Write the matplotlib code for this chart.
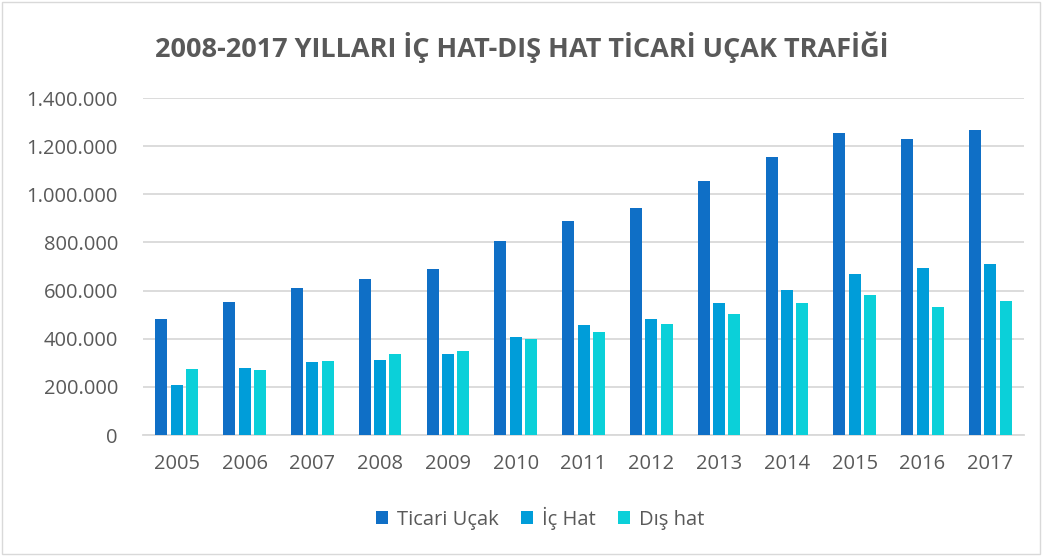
import numpy as np
import matplotlib.pyplot as plt
from matplotlib.patches import Rectangle

# values
years = ["2005", "2006", "2007", "2008", "2009", "2010", "2011",
         "2012", "2013", "2014", "2015", "2016", "2017"]
ticari = [482000, 553000, 612000, 650000, 690000, 807000, 890000,
          944000, 1057000, 1157000, 1253000, 1232000, 1269000]
ic_hat = [209000, 279000, 304000, 313000, 337000, 407000, 456000,
          480000, 550000, 603000, 667000, 696000, 709000]
dis_hat = [273000, 272000, 306000, 335000, 350000, 398000, 430000,
           460000, 503000, 550000, 583000, 532000, 558000]
series_names = ["Ticari Uçak", "İç Hat", "Dış hat"]
colors = ["#0F6FC6", "#009DD9", "#0BD0D9"]
text_color = "#595959"

plt.rcParams["font.family"] = ["Open Sans", "DejaVu Sans"]

fig = plt.figure(figsize=(10.43, 5.56), dpi=100)
ax = fig.add_axes([0.137, 0.2176, 0.845, 0.606])

x = np.arange(len(years))
w = 0.177
step = 0.226
for i, (vals, name, c) in enumerate(zip([ticari, ic_hat, dis_hat], series_names, colors)):
    ax.bar(x + (i - 1) * step, vals, width=w, color=c, label=name, zorder=3)

ax.set_xlim(-0.5, len(years) - 0.5)
ax.set_ylim(0, 1400000)
ax.set_yticks(np.arange(0, 1400001, 200000))
ax.set_yticklabels([f"{v:,}".replace(",", ".") for v in range(0, 1400001, 200000)])
ax.set_xticks(x)
ax.set_xticklabels(years)
ax.tick_params(axis="both", length=0, labelsize=14.5, colors=text_color)
ax.tick_params(axis="y", pad=18)
ax.tick_params(axis="x", pad=14)
ax.yaxis.grid(True, color="#D9D9D9", linewidth=1.3, zorder=0)
for s in ["top", "right", "left"]:
    ax.spines[s].set_visible(False)
ax.spines["bottom"].set_color("#D9D9D9")
ax.spines["bottom"].set_linewidth(1.3)

fig.text(0.5, 0.915, "2008-2017 YILLARI İÇ HAT-DIŞ HAT TİCARİ UÇAK TRAFİĞİ",
         ha="center", va="center", fontsize=19.5, fontweight="bold", color=text_color)

fig.legend(loc="center", bbox_to_anchor=(0.518, 0.068), ncol=3, frameon=False,
           fontsize=14.5, labelcolor=text_color, handlelength=0.6, handleheight=0.6,
           handletextpad=0.45, columnspacing=1.1)

fig.patches.append(Rectangle((0.002, 0.003), 0.995, 0.993, transform=fig.transFigure,
                             fill=False, edgecolor="#D9D9D9", linewidth=1))

fig.savefig("out.png", dpi=100)
